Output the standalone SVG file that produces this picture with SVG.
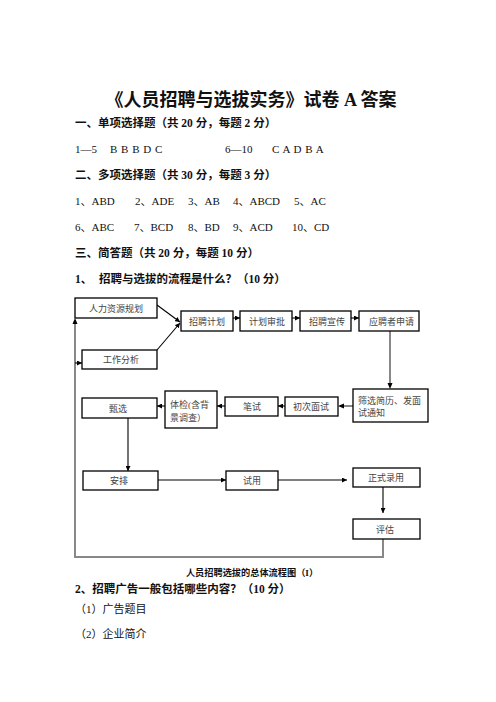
<svg xmlns="http://www.w3.org/2000/svg" width="496" height="702" viewBox="0 0 496 702">
<style>
text{font-family:"Liberation Serif","Noto Sans CJK SC",serif;fill:#111}
.t{font-size:18px;font-weight:bold}
.h{font-size:11.5px;font-weight:bold}
.b{font-size:11px}
.n{font-size:9px;fill:#444}
.cap{font-size:9.2px;font-weight:bold}
.box{fill:#fff;stroke:#000;stroke-width:1.3}
.ln{fill:none;stroke:#000;stroke-width:1.1}
.g{fill:none;stroke:#888;stroke-width:2}
</style>
<defs>
<marker id="a" viewBox="0 0 10 10" refX="10" refY="5" markerWidth="5" markerHeight="5" orient="auto" markerUnits="userSpaceOnUse">
<path d="M0,0 L10,5 L0,10 z" fill="#000"/>
</marker>
</defs>
<rect width="496" height="702" fill="#fff"/>
<text class="t" x="251" y="106" text-anchor="middle">《人员招聘与选拔实务》试卷 A 答案</text>
<text class="h" x="75" y="127">一、单项选择题（共 20 分，每题 2 分）</text>
<text class="b" x="75" y="153">1—5</text>
<text class="b" x="110" y="153" letter-spacing="0.5">B B B D C</text>
<text class="b" x="225" y="153">6—10</text>
<text class="b" x="272" y="153" letter-spacing="0.5">C A D B A</text>
<text class="h" x="75" y="179">二、多项选择题（共 30 分，每题 3 分）</text>
<text class="b" x="75" y="205">1、ABD</text>
<text class="b" x="135" y="205">2、ADE</text>
<text class="b" x="188" y="205">3、AB</text>
<text class="b" x="233" y="205">4、ABCD</text>
<text class="b" x="294" y="205">5、AC</text>
<text class="b" x="75" y="231">6、ABC</text>
<text class="b" x="134" y="231">7、BCD</text>
<text class="b" x="188" y="231">8、BD</text>
<text class="b" x="233" y="231">9、ACD</text>
<text class="b" x="292" y="231">10、CD</text>
<text class="h" x="75" y="257">三、简答题（共 20 分，每题 10 分）</text>
<text class="h" x="75" y="283">1、</text>
<text class="h" x="99" y="283">招聘与选拔的流程是什么？（10 分）</text>

<g id="connectors">
<path class="g" d="M383,539 V557 H75 V320"/>
<path d="M75,318 l-2.5,6 h5 z" fill="#000"/>
<path class="ln" d="M75,363 H82" marker-end="url(#a)"/>
<path class="ln" d="M157,305 L180,322" marker-end="url(#a)"/>
<path class="ln" d="M157,350 L180,323" marker-end="url(#a)"/>
<path class="ln" d="M233,318 H240" marker-end="url(#a)"/>
<path class="ln" d="M292,318 H300" marker-end="url(#a)"/>
<path class="ln" d="M351,318 H359" marker-end="url(#a)"/>
<path class="g" d="M390,331 V384"/>
<path d="M390,389 l-2.5,-6 h5 z" fill="#000"/>
<path class="g" d="M353,406 H343"/>
<path d="M338,406 l6,-2.5 v5 z" fill="#000"/>
<path class="ln" d="M285,406 H278" marker-end="url(#a)"/>
<path class="ln" d="M225,406 H217" marker-end="url(#a)"/>
<path class="ln" d="M165,406 H157" marker-end="url(#a)"/>
<path class="ln" d="M128,418 V471" marker-end="url(#a)"/>
<path class="ln" d="M158,480 H226" marker-end="url(#a)"/>
<path class="ln" d="M278,480 H347" marker-end="url(#a)"/>
<path class="ln" d="M383,487 V513" marker-end="url(#a)"/>
</g>

<g id="n1"><rect class="box" x="75" y="298" width="82" height="20"/><text class="n" x="89" y="311.5">人力资源规划</text></g>
<g id="n2"><rect class="box" x="82" y="350" width="75" height="19"/><text class="n" x="103" y="363">工作分析</text></g>
<g id="n3"><rect class="box" x="181" y="311" width="52" height="20"/><text class="n" x="189" y="324.5">招聘计划</text></g>
<g id="n4"><rect class="box" x="240" y="311" width="52" height="20"/><text class="n" x="249" y="324.5">计划审批</text></g>
<g id="n5"><rect class="box" x="300" y="311" width="51" height="20"/><text class="n" x="309" y="324.5">招聘宣传</text></g>
<g id="n6"><rect class="box" x="359" y="311" width="60" height="20"/><text class="n" x="369" y="324.5">应聘者申请</text></g>
<g id="n7"><rect class="box" x="353" y="389" width="75" height="33"/><text class="n" x="358" y="403.5">筛选简历、发面</text><text class="n" x="358" y="416">试通知</text></g>
<g id="n8"><rect class="box" x="285" y="397" width="53" height="19"/><text class="n" x="293" y="410">初次面试</text></g>
<g id="n9"><rect class="box" x="225" y="397" width="53" height="19"/><text class="n" x="243" y="410">笔试</text></g>
<g id="n10"><rect class="box" x="165" y="391" width="52" height="37"/><text class="n" x="170" y="408">体检(含背</text><text class="n" x="170" y="421">景调查）</text></g>
<g id="n11"><rect class="box" x="82" y="398" width="75" height="20"/><text class="n" x="109" y="411.5">甄选</text></g>
<g id="n12"><rect class="box" x="83" y="471" width="75" height="19"/><text class="n" x="110" y="484">安排</text></g>
<g id="n13"><rect class="box" x="226" y="471" width="52" height="19"/><text class="n" x="243" y="484">试用</text></g>
<g id="n14"><rect class="box" x="353" y="468" width="67" height="19"/><text class="n" x="368" y="481">正式录用</text></g>
<g id="n15"><rect class="box" x="353" y="519" width="67" height="20"/><text class="n" x="376" y="532.5">评估</text></g>

<text class="cap" x="252" y="576" text-anchor="middle">人员招聘选拔的总体流程图（I）</text>
<text class="h" x="75" y="593">2、招聘广告一般包括哪些内容？（10 分）</text>
<text class="b" x="75" y="613">（1）广告题目</text>
<text class="b" x="75" y="638">（2）企业简介</text>
</svg>
